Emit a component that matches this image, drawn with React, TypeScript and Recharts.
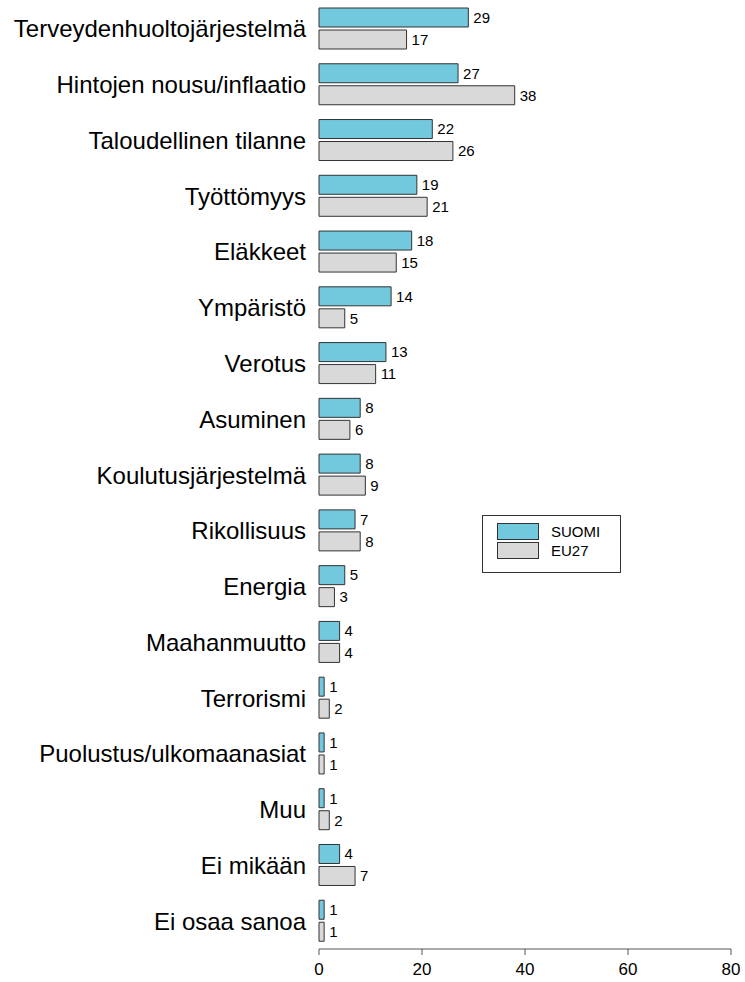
import { BarChart, Bar, XAxis, YAxis, LabelList } from 'recharts';

const categories = [
  'Terveydenhuoltojärjestelmä',
  'Hintojen nousu/inflaatio',
  'Taloudellinen tilanne',
  'Työttömyys',
  'Eläkkeet',
  'Ympäristö',
  'Verotus',
  'Asuminen',
  'Koulutusjärjestelmä',
  'Rikollisuus',
  'Energia',
  'Maahanmuutto',
  'Terrorismi',
  'Puolustus/ulkomaanasiat',
  'Muu',
  'Ei mikään',
  'Ei osaa sanoa',
];
const suomi = [29, 27, 22, 19, 18, 14, 13, 8, 8, 7, 5, 4, 1, 1, 1, 4, 1];
const eu27 = [17, 38, 26, 21, 15, 5, 11, 6, 9, 8, 3, 4, 2, 1, 2, 7, 1];
const xTicks = [0, 20, 40, 60, 80];

const data = categories.map((name, i) => ({ name, suomi: suomi[i], eu27: eu27[i] }));

const FONT = '"Liberation Sans", Arial, sans-serif';
const BLUE = '#72C8DC';
const GREY = '#D9D9D9';
const EDGE = '#333333';

const legendItems = [
  { label: 'SUOMI', color: BLUE },
  { label: 'EU27', color: GREY },
];

function LegendBox() {
  return (
    <div
      style={{
        position: 'absolute',
        left: 482,
        top: 515,
        width: 139,
        height: 58,
        border: '1px solid #333',
        background: '#fff',
        fontFamily: FONT,
        fontSize: 15,
        color: '#000',
        paddingTop: 6,
        boxSizing: 'border-box',
      }}
    >
      {legendItems.map((it) => (
        <div key={it.label} style={{ display: 'flex', alignItems: 'center', height: 19, marginLeft: 14 }}>
          <span
            style={{
              display: 'inline-block',
              width: 42,
              height: 17,
              background: it.color,
              border: `1px solid ${EDGE}`,
              boxSizing: 'border-box',
              marginRight: 12,
            }}
          />
          <span>{it.label}</span>
        </div>
      ))}
    </div>
  );
}

export default function App() {
  return (
    <div style={{ position: 'absolute', left: 0, top: 0, width: 745, height: 982, background: '#fff' }}>
      <BarChart
        width={745}
        height={982}
        data={data}
        layout="vertical"
        margin={{ top: 1, right: 14, bottom: 0, left: 0 }}
        barSize={19}
        barGap={3}
        style={{ fontFamily: FONT }}
      >
        <XAxis
          type="number"
          domain={[0, 80]}
          ticks={xTicks}
          height={33}
          axisLine={{ stroke: '#555' }}
          tickLine={{ stroke: '#555' }}
          tickSize={6}
          tick={{ fontSize: 17, fill: '#000', fontFamily: FONT }}
          tickMargin={8}
        />
        <YAxis
          type="category"
          dataKey="name"
          width={319}
          axisLine={false}
          tickLine={false}
          tickMargin={7}
          interval={0}
          tick={{ fontSize: 24, fill: '#000', fontFamily: FONT }}
        />
        <Bar dataKey="suomi" name="SUOMI" fill={BLUE} stroke={EDGE} strokeWidth={1} isAnimationActive={false}>
          <LabelList dataKey="suomi" position="right" offset={5} style={{ fontSize: 15, fill: '#000', fontFamily: FONT }} />
        </Bar>
        <Bar dataKey="eu27" name="EU27" fill={GREY} stroke={EDGE} strokeWidth={1} isAnimationActive={false}>
          <LabelList dataKey="eu27" position="right" offset={5} style={{ fontSize: 15, fill: '#000', fontFamily: FONT }} />
        </Bar>
      </BarChart>
      <LegendBox />
    </div>
  );
}
